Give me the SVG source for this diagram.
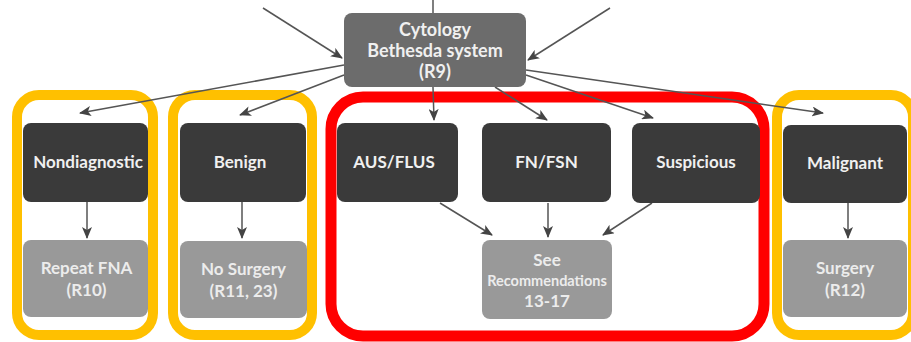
<svg xmlns="http://www.w3.org/2000/svg" width="911" height="342" viewBox="0 0 911 342">
<defs>
<marker id="ah" viewBox="0 0 12 10" refX="11" refY="5" markerWidth="12" markerHeight="10" markerUnits="userSpaceOnUse" orient="auto">
<path d="M0,0 L12,5 L0,10 L3,5 Z" fill="#444"/>
</marker>
<style>
.dark{fill:#3a3a3a}
.light{fill:#999999}
.mid{fill:#6c6c6c}
.t{font-family:Lato,"Liberation Sans",sans-serif;font-weight:700;fill:#f0f0f0;text-anchor:middle;font-size:17px}
.tl{font-family:Lato,"Liberation Sans",sans-serif;font-weight:700;fill:#ececec;text-anchor:middle;font-size:17px}
.big{font-size:18px}
.small{font-size:14.5px}
.conn line{stroke:#555;stroke-width:1.5;marker-end:url(#ah)}
.org{fill:none;stroke:#FFC000;stroke-width:10}
.red{fill:none;stroke:#FF0000;stroke-width:11}
</style>
</defs>
<rect width="911" height="342" fill="#ffffff"/>

<g id="frames">
<rect class="org" x="17" y="95" width="136" height="240" rx="22"/>
<rect class="org" x="173" y="95" width="139" height="240" rx="22"/>
<rect class="red" x="331" y="97" width="433" height="239" rx="32"/>
<rect class="org" x="777" y="95" width="136" height="240" rx="22"/>
</g>

<g class="conn">
<line x1="263" y1="8" x2="342" y2="58"/>
<line x1="610" y1="8" x2="528" y2="60"/>
<line x1="433" y1="0" x2="433" y2="13" style="marker-end:none"/>
<line x1="344" y1="65" x2="80" y2="113"/>
<line x1="344" y1="75" x2="240" y2="115"/>
<line x1="433" y1="87" x2="434" y2="120"/>
<line x1="495" y1="87" x2="547" y2="120"/>
<line x1="526" y1="75" x2="653" y2="118"/>
<line x1="526" y1="70" x2="823" y2="113"/>
<line x1="87" y1="202" x2="87" y2="238"/>
<line x1="242" y1="202" x2="242" y2="238"/>
<line x1="440" y1="203" x2="492" y2="235"/>
<line x1="548" y1="203" x2="548" y2="237"/>
<line x1="652" y1="203" x2="603" y2="235"/>
<line x1="848" y1="203" x2="848" y2="238"/>
</g>

<g id="cytology">
<rect class="mid" x="344" y="13" width="182" height="74" rx="8"/>
<text class="t big" x="435" y="36">Cytology</text>
<text class="t big" x="435" y="57">Bethesda system</text>
<text class="t big" x="435" y="78">(R9)</text>
</g>

<g id="nondiagnostic">
<rect class="dark" x="23" y="123" width="125" height="79" rx="8"/>
<text class="t" x="88" y="168">Nondiagnostic</text>
</g>
<g id="repeat-fna">
<rect class="light" x="23" y="240" width="125" height="77" rx="8"/>
<text class="tl" x="86.5" y="274">Repeat FNA</text>
<text class="tl" x="86.5" y="296">(R10)</text>
</g>

<g id="benign">
<rect class="dark" x="180" y="123" width="126" height="79" rx="8"/>
<text class="t" x="240" y="168">Benign</text>
</g>
<g id="no-surgery">
<rect class="light" x="180" y="241" width="127" height="77" rx="8"/>
<text class="tl" x="243.5" y="275">No Surgery</text>
<text class="tl" x="243.5" y="297">(R11, 23)</text>
</g>

<g id="aus-flus">
<rect class="dark" x="337" y="123" width="121" height="79" rx="8"/>
<text class="t" x="394" y="168">AUS/FLUS</text>
</g>
<g id="fn-fsn">
<rect class="dark" x="482" y="123" width="129" height="79" rx="8"/>
<text class="t" x="546.5" y="168">FN/FSN</text>
</g>
<g id="suspicious">
<rect class="dark" x="632" y="123" width="128" height="80" rx="8"/>
<text class="t" x="696" y="168">Suspicious</text>
</g>
<g id="see-recommendations">
<rect class="light" x="482" y="240" width="130" height="79" rx="8"/>
<text class="tl" x="547" y="266">See</text>
<text class="tl small" x="547" y="286">Recommendations</text>
<text class="tl" x="547" y="307">13-17</text>
</g>

<g id="malignant">
<rect class="dark" x="783" y="125" width="124" height="78" rx="8"/>
<text class="t" x="845" y="169">Malignant</text>
</g>
<g id="surgery">
<rect class="light" x="783" y="240" width="124" height="77" rx="8"/>
<text class="tl" x="845" y="274">Surgery</text>
<text class="tl" x="845" y="296">(R12)</text>
</g>
</svg>
